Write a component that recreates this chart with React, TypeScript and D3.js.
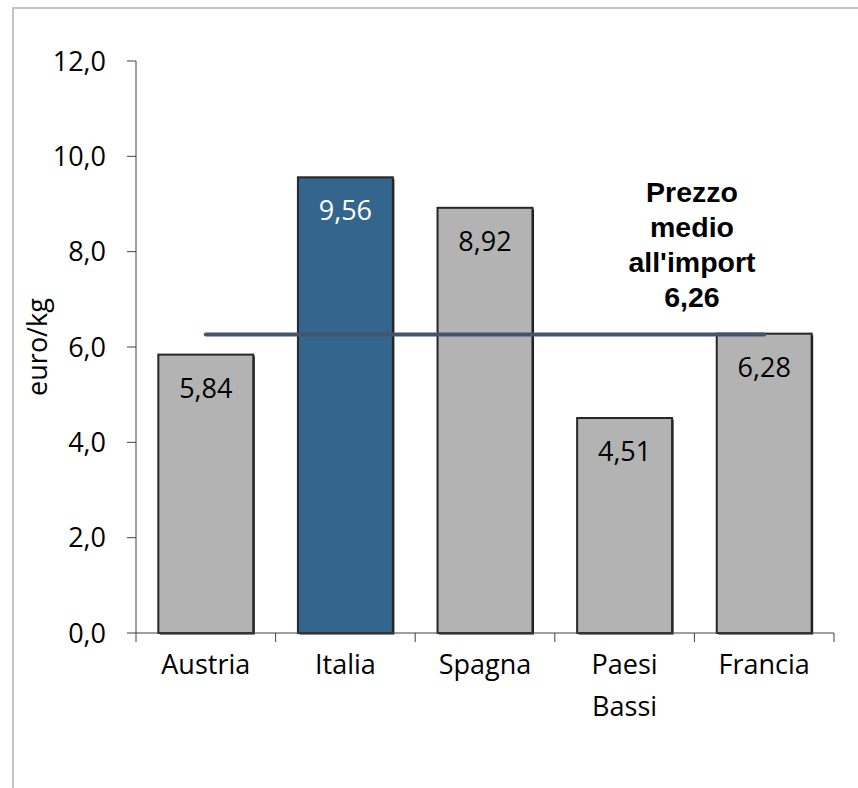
import React from "react";
import * as d3 from "d3";

const categories = ["Austria", "Italia", "Spagna", "Paesi Bassi", "Francia"];
const values = [5.84, 9.56, 8.92, 4.51, 6.28];
const highlight = ["Italia"];
const averagePrice = 6.26;
const yTicks = [0, 2, 4, 6, 8, 10, 12];
const yAxisTitle = "euro/kg";
const avgLabelLines = ["Prezzo", "medio", "all'import", "6,26"];

const W = 858;
const H = 788;
const FONT = "'Open Sans', sans-serif";

export default function App() {
  const x = d3
    .scaleBand<string>()
    .domain(categories)
    .range([136, 834])
    .paddingInner(0.32)
    .paddingOuter(0.16);
  const y = d3.scaleLinear().domain([0, 12]).range([633, 61]);
  const fmt = (v: number, d: number) => v.toFixed(d).replace(".", ",");
  const bw = x.bandwidth();
  const step = x.step();
  const bandEdges = categories.map((c) => (x(c) as number) - step * 0.16);
  bandEdges.push(834);

  return (
    <svg
      width={W}
      height={H}
      style={{ position: "absolute", left: 0, top: 0, background: "#fff" }}
    >
      <rect x={13} y={8} width={900} height={900} fill="#fff" stroke="#C4C4C4" strokeWidth={2} />
      {/* y axis */}
      <line x1={136} x2={136} y1={61} y2={633} stroke="#404040" strokeWidth={1} />
      {yTicks.map((t) => (
        <g key={t}>
          <line x1={127} x2={136} y1={y(t)} y2={y(t)} stroke="#404040" strokeWidth={1} />
          <text
            x={106}
            y={y(t)}
            dy="0.36em"
            textAnchor="end"
            fontFamily={FONT}
            fontSize={27}
            fill="#000"
          >
            {fmt(t, 1)}
          </text>
        </g>
      ))}
      <text
        transform={`translate(47,347) rotate(-90)`}
        textAnchor="middle"
        fontFamily={FONT}
        fontSize={27}
        fill="#000"
      >
        {yAxisTitle}
      </text>
      {/* bars */}
      {categories.map((c, i) => {
        const hi = highlight.includes(c);
        const bx = x(c) as number;
        return (
          <g key={c}>
            <rect
              x={bx + 1.5}
              y={y(values[i]) + 1.5}
              width={bw}
              height={y(0) - y(values[i])}
              fill="#111"
            />
            <rect
              x={bx}
              y={y(values[i])}
              width={bw}
              height={y(0) - y(values[i])}
              fill={hi ? "#33658D" : "#B3B3B3"}
              stroke="#262626"
              strokeWidth={2}
            />
          </g>
        );
      })}
      {/* x axis */}
      <line x1={136} x2={834} y1={633} y2={633} stroke="#404040" strokeWidth={1} />
      {bandEdges.map((e, i) => (
        <line key={i} x1={e} x2={e} y1={633} y2={642} stroke="#404040" strokeWidth={1} />
      ))}
      {categories.map((c) => {
        const words = c.split(" ");
        return (
          <text
            key={c}
            x={(x(c) as number) + bw / 2}
            y={674}
            textAnchor="middle"
            fontFamily={FONT}
            fontSize={27}
            fill="#000"
          >
            {words.map((w, j) => (
              <tspan key={j} x={(x(c) as number) + bw / 2} dy={j === 0 ? 0 : 42}>
                {w}
              </tspan>
            ))}
          </text>
        );
      })}
      {/* average line */}
      <line
        x1={(x(categories[0]) as number) + bw / 2}
        x2={(x(categories[categories.length - 1]) as number) + bw / 2}
        y1={y(averagePrice)}
        y2={y(averagePrice)}
        stroke="#44546A"
        strokeWidth={4}
        strokeLinecap="round"
      />
      {/* value labels */}
      {categories.map((c, i) => (
        <text
          key={c}
          x={(x(c) as number) + bw / 2}
          y={y(values[i]) + 43}
          textAnchor="middle"
          fontFamily={FONT}
          fontSize={27}
          fill={highlight.includes(c) ? "#fff" : "#000"}
        >
          {fmt(values[i], 2)}
        </text>
      ))}
      {/* average label */}
      <text
        textAnchor="middle"
        fontFamily="'Liberation Sans', Arial, sans-serif"
        fontWeight="bold"
        fontSize={28.5}
        fill="#000"
      >
        {avgLabelLines.map((l, j) => (
          <tspan key={j} x={692} y={202 + j * 35}>
            {l}
          </tspan>
        ))}
      </text>
    </svg>
  );
}
